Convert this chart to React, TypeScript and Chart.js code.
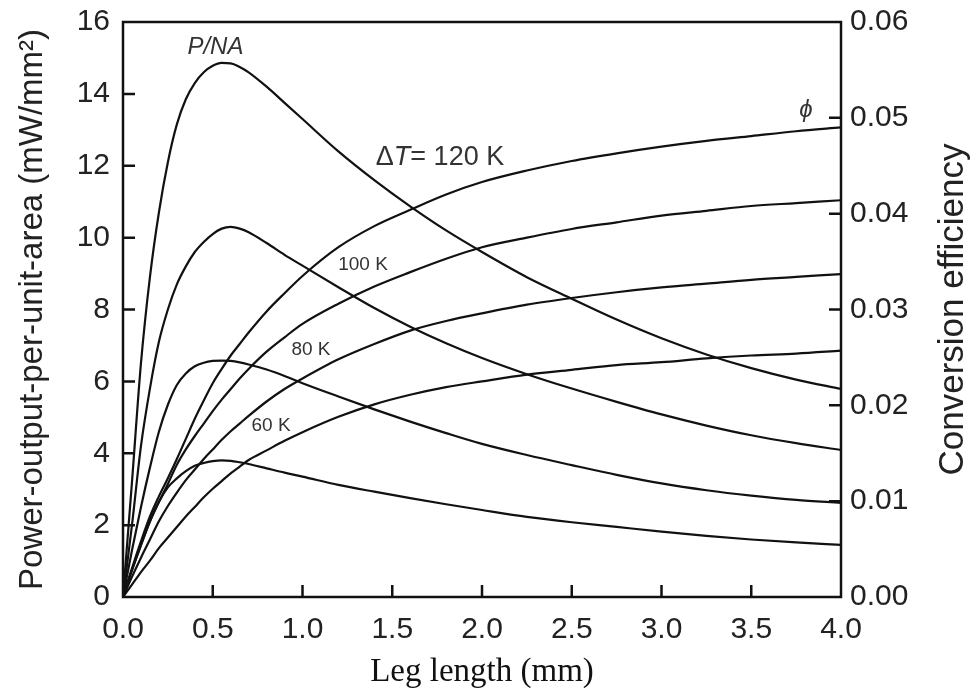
import React, { useEffect, useRef } from "react";
import { Chart, registerables } from "chart.js";

Chart.register(...registerables);

// Leg length (mm) sample points shared by all curves
const legLength = [0, 0.05, 0.1, 0.15, 0.2, 0.25, 0.3, 0.35, 0.4, 0.45, 0.5, 0.55, 0.6, 0.65, 0.7, 0.8, 0.9, 1.0, 1.2, 1.4, 1.6, 1.8, 2.0, 2.25, 2.5, 2.75, 3.0, 3.25, 3.5, 3.75, 4.0];

// Power output per unit area (mW/mm^2), left axis
const power120K = [0, 3.2, 6.5, 8.9, 10.7, 12.1, 13.15, 13.85, 14.3, 14.6, 14.78, 14.86, 14.85, 14.75, 14.6, 14.2, 13.75, 13.3, 12.4, 11.6, 10.87, 10.2, 9.6, 8.9, 8.3, 7.72, 7.2, 6.75, 6.37, 6.05, 5.79];
const power100K = [0, 2.0, 4.2, 5.8, 7.1, 8.0, 8.7, 9.2, 9.6, 9.88, 10.1, 10.25, 10.3, 10.25, 10.15, 9.85, 9.52, 9.22, 8.62, 8.04, 7.52, 7.06, 6.65, 6.2, 5.8, 5.43, 5.08, 4.77, 4.5, 4.28, 4.09];
const power80K = [0, 1.3, 2.5, 3.6, 4.6, 5.35, 5.9, 6.22, 6.42, 6.52, 6.57, 6.58, 6.57, 6.53, 6.47, 6.33, 6.15, 5.95, 5.58, 5.22, 4.88, 4.56, 4.26, 3.95, 3.67, 3.4, 3.16, 2.97, 2.82, 2.7, 2.62];
const power60K = [0, 0.75, 1.45, 2.1, 2.65, 3.05, 3.3, 3.5, 3.65, 3.73, 3.78, 3.8, 3.79, 3.75, 3.7, 3.58, 3.46, 3.35, 3.12, 2.93, 2.75, 2.58, 2.42, 2.23, 2.08, 1.95, 1.82, 1.7, 1.6, 1.52, 1.45];

// Conversion efficiency, right axis
const eff120K = [0, 0.0030, 0.0058, 0.0084, 0.0105, 0.0124, 0.0144, 0.0165, 0.0186, 0.0205, 0.0223, 0.0238, 0.0252, 0.0264, 0.0276, 0.0298, 0.0317, 0.0335, 0.0365, 0.0387, 0.0404, 0.0420, 0.0433, 0.0445, 0.0455, 0.0463, 0.0470, 0.0476, 0.0481, 0.0486, 0.0490];
const eff100K = [0, 0.0028, 0.0054, 0.0079, 0.0099, 0.0118, 0.0138, 0.0154, 0.0168, 0.0181, 0.0194, 0.0206, 0.0217, 0.0228, 0.0238, 0.0256, 0.0271, 0.0285, 0.0306, 0.0324, 0.0339, 0.0353, 0.0365, 0.0375, 0.0384, 0.0391, 0.0398, 0.0403, 0.0408, 0.0411, 0.0414];
const eff80K = [0, 0.0021, 0.0041, 0.0060, 0.0079, 0.0095, 0.0109, 0.0122, 0.0133, 0.0144, 0.0154, 0.0164, 0.0173, 0.0181, 0.0189, 0.0204, 0.0217, 0.0228, 0.0248, 0.0264, 0.0278, 0.0288, 0.0296, 0.0305, 0.0312, 0.0318, 0.0323, 0.0327, 0.0331, 0.0334, 0.0337];
const eff60K = [0, 0.0013, 0.0026, 0.0038, 0.0051, 0.0062, 0.0073, 0.0084, 0.0094, 0.0104, 0.0113, 0.0121, 0.0129, 0.0136, 0.0143, 0.0153, 0.0163, 0.0172, 0.0188, 0.0201, 0.0211, 0.0219, 0.0225, 0.0232, 0.0237, 0.0242, 0.0245, 0.0249, 0.0252, 0.0254, 0.0257];

// Axis ranges
const xRange = [0, 4];
const leftRange = [0, 16];
const rightRange = [0, 0.06];

const SANS = '"Liberation Sans", Arial, Helvetica, sans-serif';
const SERIF = '"Liberation Serif", "Times New Roman", serif';

// In-plot text labels, anchored in data coordinates (left axis units)
const curveLabels = [
  { parts: [{ t: "P/NA", it: true }], x: 0.515, y: 15.3, size: 24 },
  { parts: [{ t: "\u0394", it: false }, { t: "T", it: true }, { t: "= 120 K", it: false }], x: 1.766, y: 12.23, size: 27 },
  { parts: [{ t: "100 K", it: false }], x: 1.337, y: 9.24, size: 19 },
  { parts: [{ t: "80 K", it: false }], x: 1.047, y: 6.87, size: 19 },
  { parts: [{ t: "60 K", it: false }], x: 0.825, y: 4.76, size: 19 },
  { parts: [{ t: "\u03D5", it: true }], x: 3.805, y: 13.55, size: 24 },
];

const framePlugin = {
  id: "frameAndLabels",
  afterDraw(chart: any) {
    const { ctx, chartArea, scales } = chart;
    const { left, right, top, bottom } = chartArea;
    ctx.save();
    ctx.strokeStyle = "#111";
    ctx.lineWidth = 2.5;
    ctx.strokeRect(left, top, right - left, bottom - top);
    const TL = 12;
    ctx.beginPath();
    scales.y.ticks.forEach((t: any) => {
      const p = scales.y.getPixelForValue(t.value);
      if (p > top + 2 && p < bottom - 2) {
        ctx.moveTo(left, p);
        ctx.lineTo(left + TL, p);
      }
    });
    scales.y1.ticks.forEach((t: any) => {
      const p = scales.y1.getPixelForValue(t.value);
      if (p > top + 2 && p < bottom - 2) {
        ctx.moveTo(right, p);
        ctx.lineTo(right - TL, p);
      }
    });
    scales.x.ticks.forEach((t: any) => {
      const p = scales.x.getPixelForValue(t.value);
      if (p > left + 2 && p < right - 2) {
        ctx.moveTo(p, bottom);
        ctx.lineTo(p, bottom - TL);
      }
    });
    ctx.stroke();

    // Right axis title (reads bottom-to-top like the left one)
    ctx.save();
    ctx.translate(953, (top + bottom) / 2);
    ctx.rotate(-Math.PI / 2);
    ctx.fillStyle = "#222";
    ctx.font = `35px ${SANS}`;
    ctx.textAlign = "center";
    ctx.textBaseline = "middle";
    ctx.fillText("Conversion efficiency", 0, 0);
    ctx.restore();

    // Curve labels
    ctx.fillStyle = "#333";
    ctx.textBaseline = "middle";
    ctx.textAlign = "left";
    curveLabels.forEach((lab) => {
      const cx = scales.x.getPixelForValue(lab.x);
      const cy = scales.y.getPixelForValue(lab.y);
      const fonts = lab.parts.map((p) => `${p.it ? "italic " : ""}${lab.size}px ${SANS}`);
      let total = 0;
      const widths = lab.parts.map((p, i) => {
        ctx.font = fonts[i];
        const w = ctx.measureText(p.t).width;
        total += w;
        return w;
      });
      let x = cx - total / 2;
      lab.parts.forEach((p, i) => {
        ctx.font = fonts[i];
        ctx.fillText(p.t, x, cy);
        x += widths[i];
      });
    });
    ctx.restore();
  },
};

const noPad = (s: any) => {
  s.paddingTop = 0;
  s.paddingBottom = 0;
  s.paddingLeft = 0;
  s.paddingRight = 0;
};

export default function App() {
  const ref = useRef<HTMLCanvasElement>(null);

  useEffect(() => {
    if (!ref.current) return;
    const pts = (ys: number[]) => legLength.map((x, i) => ({ x, y: ys[i] }));
    const mk = (label: string, ys: number[], axis: string) => ({
      label,
      data: pts(ys),
      yAxisID: axis,
      borderColor: "#111",
      borderWidth: 2.2,
      pointRadius: 0,
      cubicInterpolationMode: "monotone" as const,
      fill: false,
    });
    const tickFont = { family: SANS, size: 30 };
    const chart = new Chart(ref.current, {
      type: "line",
      data: {
        datasets: [
          mk("P/NA 120 K", power120K, "y"),
          mk("P/NA 100 K", power100K, "y"),
          mk("P/NA 80 K", power80K, "y"),
          mk("P/NA 60 K", power60K, "y"),
          mk("\u03D5 120 K", eff120K, "y1"),
          mk("\u03D5 100 K", eff100K, "y1"),
          mk("\u03D5 80 K", eff80K, "y1"),
          mk("\u03D5 60 K", eff60K, "y1"),
        ],
      },
      options: {
        responsive: false,
        animation: false,
        events: [],
        layout: { padding: { top: 22, left: 0, right: 0, bottom: 0 } },
        plugins: { legend: { display: false }, tooltip: { enabled: false } },
        scales: {
          x: {
            type: "linear",
            position: "bottom",
            min: xRange[0],
            max: xRange[1],
            grid: { display: false, drawTicks: false },
            border: { display: false },
            ticks: {
              stepSize: 0.5,
              autoSkip: false,
              maxRotation: 0,
              padding: 15,
              color: "#222",
              font: tickFont,
              callback: (v: any) => Number(v).toFixed(1),
            },
            title: {
              display: true,
              text: "Leg length (mm)",
              color: "#111",
              font: { family: SERIF, size: 33 },
              padding: { top: 0, bottom: 0 },
            },
            afterFit: (s: any) => {
              s.height = 95;
              noPad(s);
            },
          },
          y: {
            type: "linear",
            position: "left",
            min: leftRange[0],
            max: leftRange[1],
            grid: { display: false, drawTicks: false },
            border: { display: false },
            ticks: {
              stepSize: 2,
              padding: 13,
              color: "#222",
              font: tickFont,
            },
            title: {
              display: true,
              text: "Power-output-per-unit-area (mW/mm\u00B2)",
              color: "#222",
              font: { family: SANS, size: 33 },
              padding: { top: 13, bottom: 0 },
            },
            afterFit: (s: any) => {
              s.width = 123;
              noPad(s);
            },
          },
          y1: {
            type: "linear",
            position: "right",
            min: rightRange[0],
            max: rightRange[1],
            grid: { display: false, drawTicks: false },
            border: { display: false },
            ticks: {
              stepSize: 0.01,
              padding: 9,
              color: "#222",
              font: tickFont,
              callback: (v: any) => Number(v).toFixed(2),
            },
            afterFit: (s: any) => {
              s.width = 131;
              noPad(s);
            },
          },
        },
      },
      plugins: [framePlugin],
    });
    return () => chart.destroy();
  }, []);

  return (
    <div style={{ position: "fixed", left: 0, top: 0, width: 972, height: 692, background: "#fff" }}>
      <canvas ref={ref} width={972} height={692} style={{ display: "block" }} />
    </div>
  );
}
